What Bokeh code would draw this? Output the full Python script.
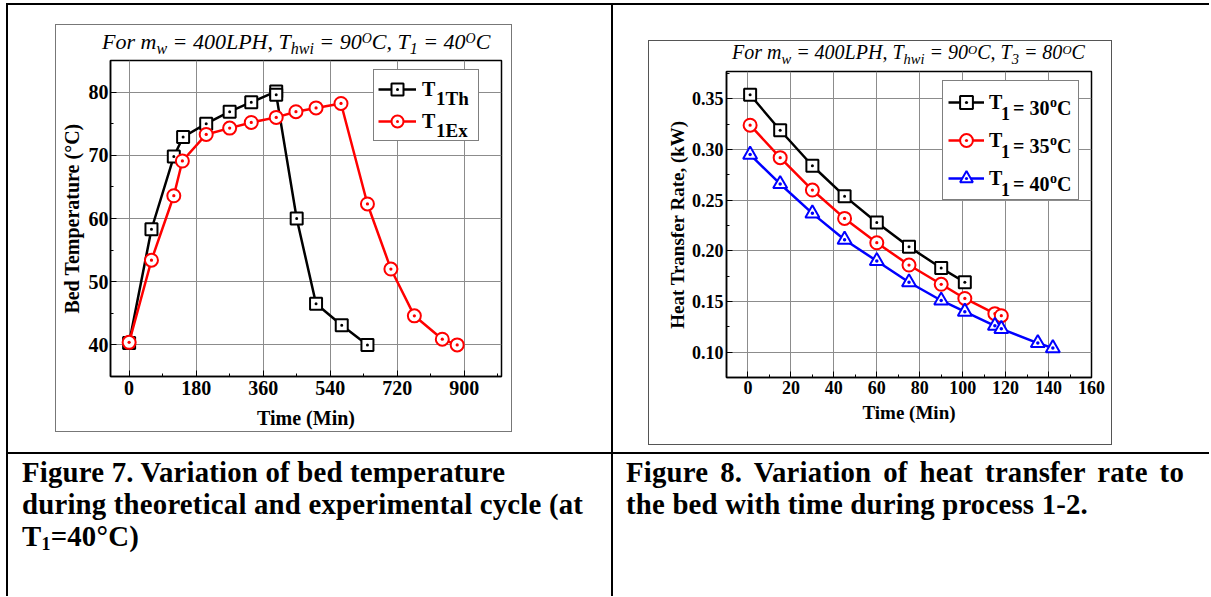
from bokeh.plotting import figure
from bokeh.models import (Legend, LegendItem, FixedTicker, Range1d,
                          PrintfTickFormatter, Div, Spacer)
from bokeh.layouts import row, column
from bokeh.embed import file_html
from bokeh.resources import INLINE

SERIF = "Liberation Serif"

# ---------------- Figure 7 data (bed temperature vs time) ----------------
fig7_time_theory = [0, 60, 120, 145, 207, 270, 328, 395, 395, 450, 502, 571, 640]
fig7_temp_theory = [40.3, 58.3, 69.8, 72.9, 75.0, 76.9, 78.4, 80.1, 79.6, 60.0, 46.5, 43.1, 40.0]
fig7_time_exp = [0, 60, 120, 143, 207, 270, 328, 395, 448, 502, 569, 640, 703, 766, 841, 881]
fig7_temp_exp = [40.4, 53.4, 63.6, 69.1, 73.3, 74.3, 75.2, 76.0, 76.9, 77.5, 78.2, 62.3, 52.0, 44.6, 40.9, 40.0]
fig7_xticks = [0, 180, 360, 540, 720, 900]
fig7_yticks = [40, 50, 60, 70, 80]
fig7_series = ["1Th", "1Ex"]

# ---------------- Figure 8 data (heat transfer rate vs time) ----------------
fig8_time_30 = [1, 15, 30, 45, 60, 75, 90, 101]
fig8_rate_30 = [0.354, 0.319, 0.284, 0.254, 0.228, 0.204, 0.183, 0.169]
fig8_time_35 = [1, 15, 30, 45, 60, 75, 90, 101, 115, 118]
fig8_rate_35 = [0.324, 0.292, 0.260, 0.232, 0.208, 0.186, 0.167, 0.153, 0.138, 0.136]
fig8_time_40 = [1, 15, 30, 45, 60, 75, 90, 101, 115, 118, 135, 142]
fig8_rate_40 = [0.295, 0.266, 0.237, 0.211, 0.190, 0.169, 0.151, 0.140, 0.126, 0.123, 0.109, 0.104]
fig8_temps = ["30", "35", "40"]
fig8_xticks = [0, 20, 40, 60, 80, 100, 120, 140, 160]
fig8_yticks = [0.10, 0.15, 0.20, 0.25, 0.30, 0.35]


def mids(ticks):
    step = ticks[1] - ticks[0]
    return [t + step / 2 for t in ticks]


def make_fig(w, h, xr, yr, borders, xt, yt, tick_px, label_px, xlabel, ylabel,
             x_stand, y_stand, xl_stand, yl_stand):
    p = figure(width=w, height=h, x_range=Range1d(*xr), y_range=Range1d(*yr),
               output_backend="svg", toolbar_location=None,
               min_border_left=borders[0], min_border_right=borders[1],
               min_border_top=borders[2], min_border_bottom=borders[3],
               outline_line_color="black", outline_line_width=1.5,
               background_fill_color="white", border_fill_color="white")
    xtick = FixedTicker(ticks=xt, minor_ticks=mids(xt))
    ytick = FixedTicker(ticks=yt, minor_ticks=mids(yt))
    for ax, tk, stand, lstand, lab in ((p.below[0], xtick, x_stand, xl_stand, xlabel),
                                       (p.left[0], ytick, y_stand, yl_stand, ylabel)):
        ax.ticker = tk
        ax.axis_label = lab
        ax.axis_line_color = "black"
        ax.axis_line_width = 1.5
        ax.major_tick_in = 6
        ax.major_tick_out = 0
        ax.minor_tick_in = 3
        ax.minor_tick_out = 0
        ax.major_tick_line_color = "black"
        ax.minor_tick_line_color = "black"
        ax.major_label_text_font = SERIF
        ax.major_label_text_font_style = "bold"
        ax.major_label_text_font_size = f"{tick_px}px"
        ax.major_label_text_color = "black"
        ax.major_label_standoff = stand
        ax.axis_label_text_font = SERIF
        ax.axis_label_text_font_style = "bold"
        ax.axis_label_text_font_size = f"{label_px}px"
        ax.axis_label_text_color = "black"
        ax.axis_label_standoff = lstand
    for g in (p.xgrid[0], p.ygrid[0]):
        g.grid_line_color = "#8c8c8c"
        g.grid_line_width = 1
    return p


def legend_layer(p, renderers, labels, loc, geo, standoff, size, boxed):
    """One legend layer; extra layers (transparent) carry sub/superscript pieces."""
    pad, spc, gw, gh, lw = geo
    leg = Legend(items=[LegendItem(label=t, renderers=r) for t, r in zip(labels, renderers)],
                 location=loc, padding=pad, spacing=spc, margin=0,
                 glyph_width=gw, glyph_height=gh, label_height=gh,
                 label_width=lw if boxed else 1, label_standoff=standoff,
                 border_line_color="black" if boxed else None, border_line_width=1.5,
                 background_fill_color="white", background_fill_alpha=1.0 if boxed else 0.0,
                 label_text_font=SERIF, label_text_font_style="bold",
                 label_text_font_size=f"{size}px", label_text_color="black")
    p.add_layout(leg)


# ================= Figure 7 =================
# canvas abs (56,55) 455x376 ; frame abs l110 r501 t60 b377
p1 = make_fig(455, 376, (-50, 1000), (35, 85), (54, 10, 5, 54), fig7_xticks, fig7_yticks,
              20, 20, "Time (Min)", "Bed Temperature (°C)", 4, 2, 9, 3)

l_th = p1.line(fig7_time_theory, fig7_temp_theory, line_color="black", line_width=2.5)
m_th = p1.scatter(fig7_time_theory, fig7_temp_theory, marker="square_dot", size=12,
                  line_color="black", line_width=2, fill_color="white")
l_ex = p1.line(fig7_time_exp, fig7_temp_exp, line_color="red", line_width=2.5)
m_ex = p1.scatter(fig7_time_exp, fig7_temp_exp, marker="circle_dot", size=13,
                  line_color="red", line_width=2, fill_color="white")
blank1 = p1.line([], [], line_alpha=0)

geo1 = (4, 2, 38, 30, 52)
legend_layer(p1, [[l_th, m_th], [l_ex, m_ex]], ["T", "T"], (263, 235), geo1, 6, 20, True)
legend_layer(p1, [[blank1]] * 2, fig7_series, (263, 230), geo1, 25, 19, False)

# ================= Figure 8 =================
# canvas abs (649,67) 462x377 ; frame abs l726 r1091 t71 b377
p2 = make_fig(462, 377, (-10, 160), (0.075, 0.377), (77, 20, 4, 67), fig8_xticks, fig8_yticks,
              18, 19, "Time (Min)", "Heat Transfer Rate, (kW)", 3, 3, 5, 1)
p2.left[0].formatter = PrintfTickFormatter(format="%.2f")

series = [(fig8_time_30, fig8_rate_30, "black", "square_dot", 12),
          (fig8_time_35, fig8_rate_35, "red", "circle_dot", 13),
          (fig8_time_40, fig8_rate_40, "blue", "triangle_dot", 14)]
rends = []
for xs, ys, col, mk, sz in series:
    ln = p2.line(xs, ys, line_color=col, line_width=2.5)
    mm = p2.scatter(xs, ys, marker=mk, size=sz, line_color=col, line_width=2, fill_color="white")
    rends.append([ln, mm])
blank2 = p2.line([], [], line_alpha=0)

geo2 = (5, 6, 36, 32, 84)
legend_layer(p2, rends, ["T"] * 3, (216, 177), geo2, 5, 20, True)
legend_layer(p2, [[blank2]] * 3, ["1"] * 3, (216, 171), geo2, 23, 18, False)
legend_layer(p2, [[blank2]] * 3, ["= " + t for t in fig8_temps], (216, 177), geo2, 35, 20, False)
legend_layer(p2, [[blank2]] * 3, ["o"] * 3, (216, 182), geo2, 72, 14, False)
legend_layer(p2, [[blank2]] * 3, ["C"] * 3, (216, 177), geo2, 79, 20, False)


# ================= titles (html) =================
def sub(t, fs, dy):
    return f"<span style='font-size:{fs}px;position:relative;top:{dy}px'>{t}</span>"


title1 = Div(width=455, height=30, margin=0, text=(
    "<div style=\"font-family:'Liberation Serif';font-style:italic;font-size:22px;"
    "line-height:30px;padding:2px 0 0 46px;white-space:nowrap;color:black\">"
    f"For m{sub('w', 16, 5)} = 400LPH, T{sub('hwi', 16, 5)} = 90{sub('O', 14, -6)}C, "
    f"T{sub('1', 16, 5)} = 40{sub('O', 14, -6)}C</div>"))
title2 = Div(width=462, height=26, margin=0, text=(
    "<div style=\"font-family:'Liberation Serif';font-style:italic;font-size:20px;"
    "line-height:22px;padding:0 0 0 83px;white-space:nowrap;color:black\">"
    f"For m{sub('w', 14.5, 4.5)} = 400LPH, T{sub('hwi', 14.5, 4.5)} = 90{sub('O', 12.7, -5)}C, "
    f"T{sub('3', 14.5, 4.5)} = 80{sub('O', 12.7, -5)}C</div>"))


# ================= page / table layout =================
def box(w, h, color=None):
    if color is None:
        return Spacer(width=w, height=h, margin=0)
    return Spacer(width=w, height=h, margin=0, styles={"background-color": color})


def framed(inner_w, inner_h, kids, color):
    return row(box(1, inner_h + 2, color),
               column(box(inner_w, 1, color), *kids, box(inner_w, 1, color)),
               box(1, inner_h + 2, color))


block1 = framed(455, 406, [title1, p1], "#777777")     # abs x55..512, y24..432
block2 = framed(462, 403, [title2, p2], "#555555")     # abs x648..1112, y40..445

cell1 = column(box(603, 19), row(box(47, 1), block1, box(99, 1)))   # abs x8..611
cell2 = column(box(596, 35), row(box(35, 1), block2, box(97, 1)))   # abs x613..1209

cap_style = ("font-family:'Liberation Serif';font-weight:bold;font-size:28.8px;"
             "letter-spacing:0.2px;line-height:32px;color:black;")
cap1 = Div(width=603, height=142, margin=0, text=(
    f"<div style=\"{cap_style}padding:2px 0 0 14px;white-space:nowrap;\">"
    "Figure 7. Variation of bed temperature<br>"
    "during theoretical and experimental cycle (at<br>"
    "T<span style='font-size:18px;line-height:18px;vertical-align:-4px'>1</span>=40°C)</div>"))
cap2 = Div(width=596, height=142, margin=0, text=(
    f"<div style=\"{cap_style}padding:2px 0 0 13px;width:571px;\">"
    "<div style='text-align:justify;text-align-last:justify;white-space:nowrap;'>"
    "Figure 8. Variation of heat transfer rate to</div>"
    "<div style='white-space:nowrap;'>the bed with time during process 1-2.</div></div>"))

BLACK = "black"
root = column(
    box(1203, 3),
    row(box(6, 2), box(1203, 2, BLACK)),
    row(box(6, 447), box(2, 447, BLACK), cell1, box(2, 447, BLACK), cell2),
    row(box(6, 2), box(1203, 2, BLACK)),
    row(box(6, 142), box(2, 142, BLACK), cap1, box(2, 142, BLACK), cap2),
)

open("out.html", "w").write(file_html(root, INLINE))
